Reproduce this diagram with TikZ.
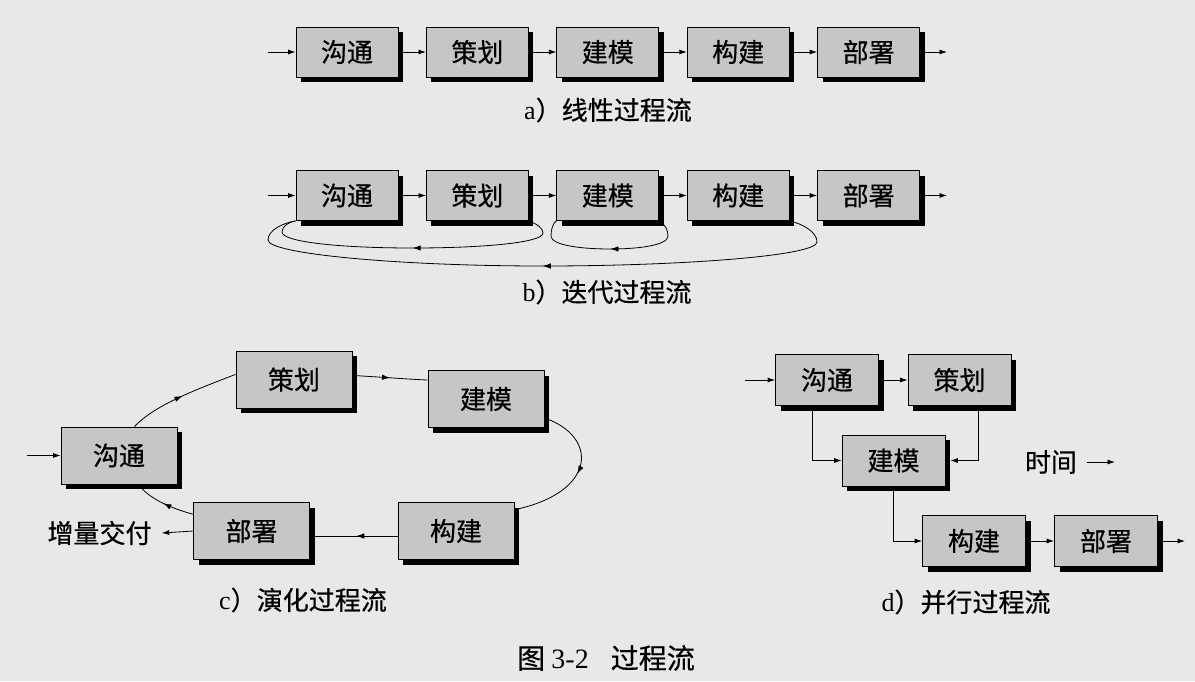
\documentclass[tikz,border=0pt]{standalone}
\usepackage{fontspec}
\newfontfamily\cjk{Noto Sans CJK SC}[FakeBold=0.5]
\newfontfamily\lat{Liberation Serif}
\usetikzlibrary{arrows.meta,shadows,decorations.markings}
\definecolor{bgc}{RGB}{232,232,232}
\definecolor{boxc}{RGB}{198,198,198}
\tikzset{
  >={Latex[length=7.5pt,width=5pt]},
  box/.style={draw=black, line width=0.8pt, fill=boxc, minimum width=102pt, minimum height=50pt,
    inner sep=0pt, font=\cjk\fontsize{26}{26}\selectfont,
    drop shadow={shadow xshift=5pt,shadow yshift=-5pt,fill=black,opacity=1}},
  bigbox/.style={box, minimum width=116pt, minimum height=57pt},
  dbox/.style={box, minimum width=103pt, minimum height=51pt},
  conn/.style={line width=0.8pt, ->},
  midarrow/.style={line width=0.8pt, postaction={decorate},
    decoration={markings, mark=at position 0.5 with {\arrow{Latex[length=8pt,width=5.5pt]}}}},
  lbl/.style={font=\cjk\fontsize{26}{26}\selectfont, inner sep=0pt},
  captxt/.style={font=\cjk\fontsize{26}{26}\selectfont, inner sep=0pt},
}
\begin{document}
\begin{tikzpicture}[x=1pt,y=-1pt]
\fill[bgc] (0,0) rectangle (1195,681);
\useasboundingbox (0,0) rectangle (1195,681);

% ---------- a) linear ----------
\foreach \n/\t [count=\i from 0] in {a1/沟通,a2/策划,a3/建模,a4/构建,a5/部署}
  \node[box] (\n) at (347+130.4*\i,52) {\t};
\coordinate (ina) at (268,52);
\coordinate (outa) at (947,52);
\draw[conn] (ina) -- (a1);
\draw[conn] (a1) -- (a2);
\draw[conn] (a2) -- (a3);
\draw[conn] (a3) -- (a4);
\draw[conn] (a4) -- (a5);
\draw[conn] (a5) -- (outa);
\node[captxt] (capa) at (608,110) {{\lat a}）线性过程流};

% ---------- b) iterative ----------
\foreach \n/\t [count=\i from 0] in {b1/沟通,b2/策划,b3/建模,b4/构建,b5/部署}
  \node[box] (\n) at (347+130.4*\i,195.5) {\t};
\coordinate (inb) at (268,195.5);
\coordinate (outb) at (947,195.5);
\draw[conn] (inb) -- (b1);
\draw[conn] (b1) -- (b2);
\draw[conn] (b2) -- (b3);
\draw[conn] (b3) -- (b4);
\draw[conn] (b4) -- (b5);
\draw[conn] (b5) -- (outb);
% loops
\draw[midarrow] (b2.south east) .. controls (537,224) and (543,228) .. (543,233)
  .. controls (543,243) and (480,248) .. (413,248)
  .. controls (340,248) and (282,242) .. (282,232)
  .. controls (282,226) and (289,222) .. (b1.south west);
\draw[midarrow] (b3.south east) .. controls (665,224) and (668,230) .. (668,236)
  .. controls (668,245) and (640,249) .. (610,249)
  .. controls (580,249) and (551,245) .. (551,236)
  .. controls (551,229) and (553,223) .. (b3.south west);
\draw[midarrow] (b4.south east) .. controls (803,224) and (817,232) .. (817,242)
  .. controls (817,256) and (680,266) .. (543,266)
  .. controls (400,266) and (268,254) .. (268,240)
  .. controls (268,230) and (283,223) .. (b1.south west);
\node[captxt] (capb) at (607,292) {{\lat b}）迭代过程流};

% ---------- c) evolutionary ----------
\node[bigbox] (c1) at (119,455.5) {沟通};
\node[bigbox] (c2) at (294,379.5) {策划};
\node[bigbox] (c3) at (486,399) {建模};
\node[bigbox] (c4) at (456,531) {构建};
\node[bigbox] (c5) at (251.5,531) {部署};
\coordinate (inc) at (27,455.5);
\draw[conn] (inc) -- (c1);
\draw[midarrow] (c1.62) .. controls (155,405) and (195,390) .. (c2.175);
\draw[midarrow] (c2.4) .. controls (380,377) and (405,379) .. (c3.162);
\draw[midarrow] (c3.-18) .. controls (598,436) and (598,492) .. (c4.20);
\draw[midarrow] ([yshift=-5pt]c4.west) -- ([yshift=-5pt,xshift=5pt]c5.east);
\draw[midarrow] (c5.164) .. controls (170,508) and (148,498) .. (c1.-56);
\node[lbl] (deliv) at (99.5,533) {增量交付};
\draw[conn] (c5.west) -- ([xshift=10pt]deliv.east);
\node[captxt] (capc) at (303,600) {{\lat c}）演化过程流};

% ---------- d) parallel ----------
\node[dbox] (d1) at (827,380) {沟通};
\node[dbox] (d2) at (959.5,380) {策划};
\node[dbox] (d3) at (893.5,460.5) {建模};
\node[dbox] (d4) at (974,541) {构建};
\node[dbox] (d5) at (1106,541) {部署};
\coordinate (ind) at (745,380);
\coordinate (outd) at (1185,541);
\draw[conn] (ind) -- (d1);
\draw[conn] (d1) -- (d2);
\draw[conn] ([xshift=-15pt]d1.south) |- (d3.west);
\draw[conn] ([xshift=18.5pt]d2.south) |- ([xshift=5pt]d3.east);
\draw[conn] (d3.south) |- (d4.west);
\draw[conn] (d4) -- (d5);
\draw[conn] (d5) -- (outd);
\node[lbl] (time) at (1051,462) {时间};
\coordinate (timeend) at (1115,462);
\draw[conn] ([xshift=10pt]time.east) -- (timeend);
\node[captxt] (capd) at (966,602) {{\lat d}）并行过程流};

% ---------- figure caption ----------
\node[captxt, font=\cjk\fontsize{28}{28}\selectfont] (fig) at (606,658) {图 {\lat 3-2}\hspace{22pt}过程流};
\end{tikzpicture}
\end{document}
